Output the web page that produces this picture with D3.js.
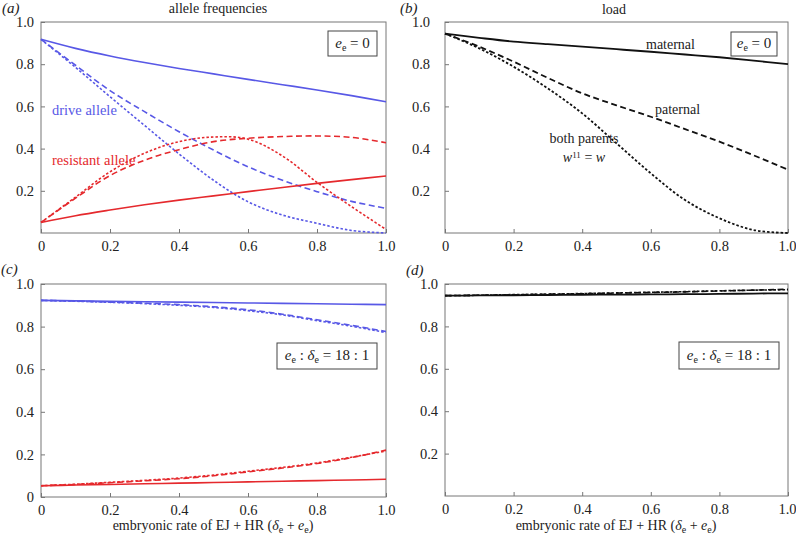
<!DOCTYPE html>
<html><head><meta charset="utf-8">
<script src="https://cdn.jsdelivr.net/npm/d3@7"></script>
<style>body{margin:0;background:#fff}svg{display:block}svg text{font-family:"Liberation Serif","Times New Roman","DejaVu Serif",serif}</style>
</head><body><svg id="c" width="796" height="538"></svg>
<script>
const xs = [0,0.1,0.2,0.3,0.4,0.5,0.6,0.7,0.8,0.9,1.0];
// panel (a) allele frequencies, e_e = 0
const aDriveSolid  = [0.918,0.875,0.839,0.808,0.780,0.754,0.728,0.703,0.678,0.651,0.622];
const aDriveDash   = [0.918,0.795,0.675,0.575,0.480,0.393,0.314,0.250,0.196,0.150,0.117];
const aDriveDot    = [0.918,0.785,0.646,0.510,0.375,0.250,0.148,0.085,0.046,0.012,0.000];
const aResSolid    = [0.050,0.082,0.109,0.134,0.156,0.176,0.196,0.216,0.235,0.253,0.270];
const aResDash     = [0.050,0.165,0.272,0.345,0.395,0.433,0.449,0.457,0.460,0.453,0.428];
const aResDot      = [0.050,0.170,0.290,0.378,0.433,0.455,0.445,0.365,0.240,0.125,0.017];
// panel (b) load, e_e = 0
const bMaternal = [0.945,0.925,0.907,0.895,0.883,0.871,0.859,0.846,0.833,0.817,0.800];
const bPaternal = [0.945,0.883,0.812,0.735,0.662,0.605,0.551,0.492,0.433,0.368,0.300];
const bBoth     = [0.945,0.875,0.788,0.685,0.567,0.425,0.283,0.156,0.070,0.014,0.000];
// panel (c) allele frequencies, e_e : delta_e = 18 : 1
const cDriveSolid = [0.923,0.921,0.919,0.917,0.915,0.913,0.911,0.909,0.907,0.905,0.903];
const cDriveDash  = [0.923,0.920,0.915,0.910,0.903,0.893,0.879,0.858,0.832,0.806,0.777];
const cDriveDot   = [0.923,0.919,0.914,0.908,0.900,0.890,0.875,0.855,0.828,0.802,0.772];
const cResSolid   = [0.053,0.056,0.059,0.062,0.065,0.068,0.071,0.074,0.077,0.080,0.083];
const cResDash    = [0.053,0.059,0.067,0.076,0.086,0.100,0.118,0.136,0.157,0.185,0.220];
const cResDot     = [0.053,0.060,0.069,0.078,0.089,0.103,0.121,0.139,0.160,0.187,0.216];
// panel (d) load, e_e : delta_e = 18 : 1
const dMaternal = [0.945,0.946,0.947,0.948,0.949,0.950,0.951,0.952,0.953,0.955,0.956];
const dPaternal = [0.945,0.947,0.949,0.952,0.954,0.957,0.960,0.963,0.967,0.971,0.975];
const dBoth     = [0.945,0.947,0.950,0.952,0.955,0.958,0.961,0.964,0.968,0.971,0.973];
const xTicks = [0,0.2,0.4,0.6,0.8,1.0];
const yTicksTop = [0.2,0.4,0.6,0.8,1.0];
const yTicksC = [0,0.2,0.4,0.6,0.8,1.0];
const yTicksD = [0.2,0.4,0.6,0.8,1.0];

const FONT = '"Liberation Serif","Times New Roman","DejaVu Serif",serif';
const BLUE = "#5858e6", RED = "#e5292d", BLACK = "#111";
const DASH = "6,3.5", DOT = "2.5,2";
const svg = d3.select("#c");

function panel(o){
  const g = svg.append("g");
  const x = d3.scaleLinear().domain([0,1]).range([o.l,o.r]);
  const y = d3.scaleLinear().domain([0,1]).range([o.b,o.t]);
  g.append("rect").attr("x",o.l).attr("y",o.t).attr("width",o.r-o.l).attr("height",o.b-o.t)
    .attr("fill","none").attr("stroke","#777").attr("stroke-width",1);
  const xa = d3.axisBottom(x).tickValues(xTicks).tickSizeInner(-4).tickSizeOuter(0)
    .tickFormat(d=> d===0?"0":d3.format(".1f")(d)).tickPadding(8);
  const xg = g.append("g").attr("transform",`translate(0,${o.b})`).call(xa);
  xg.attr("font-family",null);
  xg.select(".domain").remove();
  xg.selectAll("line").attr("stroke","#777");
  xg.selectAll("text").style("font-size","14.5px").style("font-family",FONT).attr("fill","#222");
  if(o.clipLast){
    xg.selectAll("text").filter(d=>d===1).attr("text-anchor","end").attr("dx",o.clipLast);
  }
  const ya = d3.axisLeft(y).tickValues(o.yt).tickSizeInner(-4).tickSizeOuter(0)
    .tickFormat(d=> d===0?"0":d3.format(".1f")(d)).tickPadding(o.pad);
  const yg = g.append("g").attr("transform",`translate(${o.l},0)`).call(ya);
  yg.attr("font-family",null);
  yg.select(".domain").remove();
  yg.selectAll("line").attr("stroke","#777");
  yg.selectAll("text").style("font-size","14.5px").style("font-family",FONT).attr("fill","#222");
  const line = d3.line().x((d,i)=>x(xs[i])).y(d=>y(d)).curve(d3.curveCatmullRom.alpha(0.5));
  o.series.forEach(s=>{
    g.append("path").datum(s.v).attr("d",line).attr("fill","none")
      .attr("stroke",s.c).attr("stroke-width",s.w||1.6)
      .attr("stroke-dasharray",s.dash||null);
  });
  return {x,y,g};
}

panel({l:41,r:386,t:22,b:233,yt:yTicksTop,pad:7,series:[
  {v:aDriveSolid,c:BLUE},{v:aDriveDash,c:BLUE,dash:DASH},{v:aDriveDot,c:BLUE,dash:DOT},
  {v:aResSolid,c:RED},{v:aResDash,c:RED,dash:DASH},{v:aResDot,c:RED,dash:DOT}]});
panel({l:445,r:788,t:22,b:233,yt:yTicksTop,pad:15,clipLast:8,series:[
  {v:bMaternal,c:BLACK,w:1.8},{v:bPaternal,c:BLACK,dash:DASH,w:1.8},{v:bBoth,c:BLACK,dash:DOT,w:1.8}]});
panel({l:41,r:386,t:284,b:497,yt:yTicksC,pad:7,series:[
  {v:cDriveSolid,c:BLUE},{v:cDriveDash,c:BLUE,dash:DASH},{v:cDriveDot,c:BLUE,dash:DOT},
  {v:cResSolid,c:RED},{v:cResDash,c:RED,dash:DASH},{v:cResDot,c:RED,dash:DOT}]});
panel({l:445,r:788,t:284,b:496,yt:yTicksD,pad:7,clipLast:8,series:[
  {v:dMaternal,c:BLACK,w:1.8},{v:dPaternal,c:BLACK,dash:DASH,w:1.6},{v:dBoth,c:BLACK,dash:DOT,w:1.6}]});

function txt(x,y,s,opt={}){
  return svg.append("text").attr("x",x).attr("y",y)
    .style("font-size",(opt.size||14)+"px").style("font-family",FONT)
    .attr("text-anchor",opt.anchor||"start").attr("fill",opt.fill||"#222")
    .attr("font-style",opt.italic?"italic":null).text(s);
}
function rich(x,y,size,anchor){
  return svg.append("text").attr("x",x).attr("y",y).style("font-size",size+"px")
    .style("font-family",FONT).attr("text-anchor",anchor).attr("fill","#222");
}
txt(2,13,"(a)",{size:15,italic:true});
txt(400,13,"(b)",{size:15,italic:true});
txt(1,274,"(c)",{size:15,italic:true});
txt(406,275,"(d)",{size:15,italic:true});
txt(218,13,"allele frequencies",{anchor:"middle",size:14});
txt(614,14,"load",{anchor:"middle",size:14});
txt(52,115,"drive allele",{fill:BLUE,size:14.5});
txt(52,165,"resistant allele",{fill:RED,size:14.5});
txt(646,49,"maternal",{size:14});
txt(655,114,"paternal",{size:14});
txt(584,143,"both parents",{size:14,anchor:"middle"});
const wt = rich(584,162,14,"middle");
wt.append("tspan").attr("font-style","italic").text("w");
wt.append("tspan").style("font-size","9px").attr("dy",-4).text("11");
wt.append("tspan").attr("dy",4).text(" = ");
wt.append("tspan").attr("font-style","italic").text("w");

function eeBox(x0,y0,w,h,ratio){
  svg.append("rect").attr("x",x0).attr("y",y0).attr("width",w).attr("height",h)
    .attr("fill","#fff").attr("stroke","#444").attr("stroke-width",1);
  const t = rich(x0+w/2,y0+h/2+4,15,"middle");
  t.append("tspan").attr("font-style","italic").text("e");
  t.append("tspan").style("font-size","10px").attr("dy",3).text("e");
  if(!ratio){
    t.append("tspan").attr("dy",-3).text(" = 0");
  } else {
    t.append("tspan").attr("dy",-3).text(" : ");
    t.append("tspan").attr("font-style","italic").text("δ");
    t.append("tspan").style("font-size","10px").attr("dy",3).text("e");
    t.append("tspan").attr("dy",-3).text(" = 18 : 1");
  }
}
eeBox(328,31,49,25,false);
eeBox(731,32,46,24,false);
eeBox(277,343,100,26,true);
eeBox(679,342,100,27,true);

function xLabel(cx,y){
  const t = rich(cx,y,14,"middle");
  t.append("tspan").text("embryonic rate of EJ + HR (");
  t.append("tspan").attr("font-style","italic").text("δ");
  t.append("tspan").style("font-size","10px").attr("dy",3).text("e");
  t.append("tspan").attr("dy",-3).text(" + ");
  t.append("tspan").attr("font-style","italic").text("e");
  t.append("tspan").style("font-size","10px").attr("dy",3).text("e");
  t.append("tspan").attr("dy",-3).text(")");
}
xLabel(213,530);
xLabel(616,530);
</script></body></html>
